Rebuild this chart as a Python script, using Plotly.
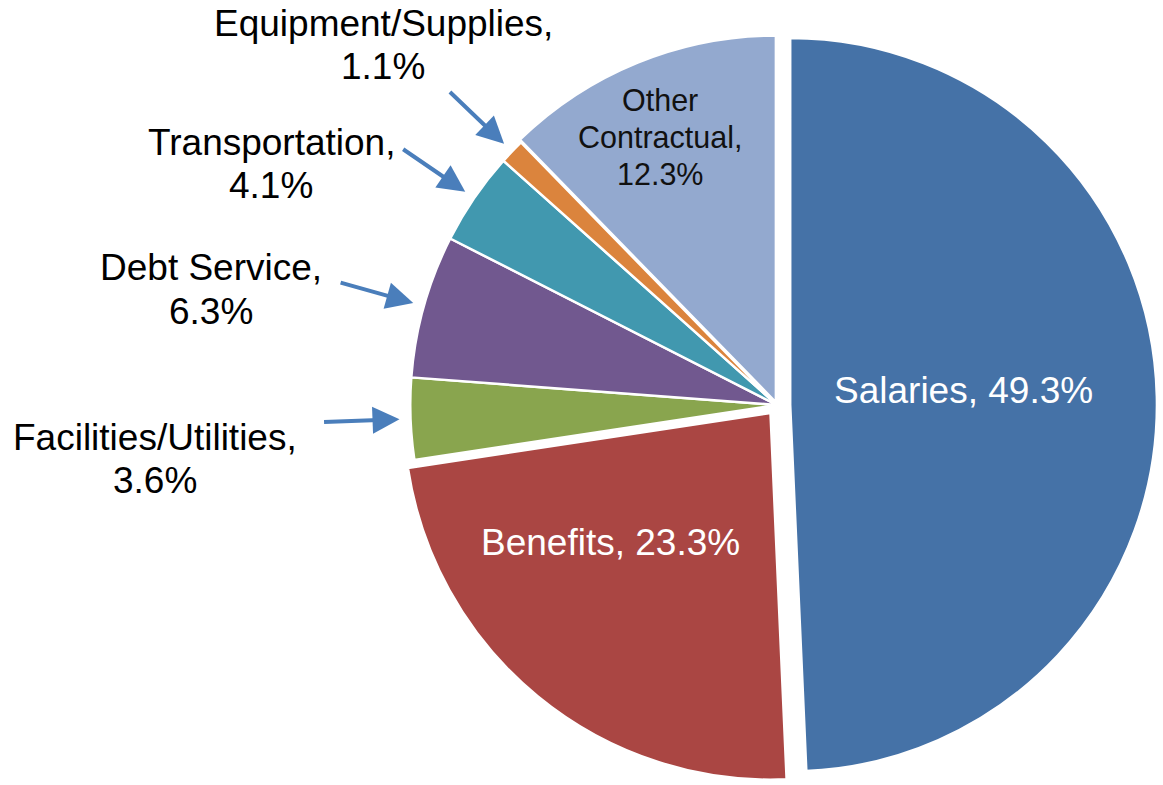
import math
import plotly.graph_objects as go

# ---------------- data ----------------
categories = ["Salaries", "Benefits", "Facilities/Utilities", "Debt Service",
              "Transportation", "Equipment/Supplies", "Other Contractual"]
shares = [49.3, 23.3, 3.6, 6.3, 4.1, 1.1, 12.3]

# ---------------- style ----------------
colors = ["#4572A7", "#AA4643", "#89A54E", "#71588F", "#4198AF", "#DB843D", "#93A9CF"]
pulls = [0.036, 0.028, 0, 0, 0, 0, 0.008]
FONT = "Liberation Sans, Arial, sans-serif"
ARROW_COLOR = "#4A7EBB"

W, H = 1163, 785
dom_x = [0.3414, 0.9948]
dom_y = [0.0, 0.96815]

# replicate plotly's pie geometry so labels follow the slices
box_w = W * (dom_x[1] - dom_x[0])
box_h = H * (dom_y[1] - dom_y[0])
R = min(box_w, box_h) / 2 / (1 + max(pulls))
CX = W * (dom_x[0] + dom_x[1]) / 2
CY = H * (1 - dom_y[0]) - box_h / 2

total = sum(shares)
mid_angles = []
acc = 0.0
for s in shares:
    mid_angles.append((acc + s / 2) / total * 360.0)
    acc += s


def polar(angle_deg, rfac):
    a = math.radians(angle_deg)
    return CX + rfac * R * math.sin(a), CY - rfac * R * math.cos(a)


def to_paper(px, py):
    return px / W, 1 - py / H


fig = go.Figure(go.Pie(
    labels=categories,
    values=shares,
    sort=False,
    direction="clockwise",
    rotation=0,
    pull=pulls,
    marker=dict(colors=colors, line=dict(color="white", width=2.5)),
    textinfo="none",
    hoverinfo="label+percent",
    domain=dict(x=dom_x, y=dom_y),
    showlegend=False,
))

annotations = []


def add_text(lines, px, py, size, color, spacing):
    n = len(lines)
    x, y = to_paper(px, py)
    for i, line in enumerate(lines):
        annotations.append(dict(
            x=x, y=y, xref="paper", yref="paper", text=line, showarrow=False,
            xanchor="center", yanchor="middle",
            yshift=((n - 1) / 2 - i) * spacing,
            font=dict(family=FONT, size=size, color=color),
        ))


def pct(v):
    return f"{v:.1f}%"


# inside labels: (index, lines, radius factor, angle offset, size, color, spacing)
inside = [
    (0, [f"{categories[0]}, {pct(shares[0])}"], 0.511, -3.3, 37, "white", 44),
    (1, [f"{categories[1]}, {pct(shares[1])}"], 0.589, 11.2, 37, "white", 44),
    (6, ["Other", "Contractual,", pct(shares[6])], 0.797, -1.4, 30.5, "#111111", 37),
]
for idx, lines, rf, da, size, color, sp in inside:
    px, py = polar(mid_angles[idx] + da, rf)
    add_text(lines, px, py, size, color, sp)

# outside labels with arrows: (index, text radius factor, angle offset)
outside = [
    (2, 1.701, -2.8),
    (3, 1.574, -4.1),
    (4, 1.527, -8.9),
    (5, 1.454, -1.3),
]
TIP, TAIL = 1.03, 1.24
for idx, rf, da in outside:
    px, py = polar(mid_angles[idx] + da, rf)
    add_text([f"{categories[idx]},", pct(shares[idx])], px, py, 37, "black", 43.5)
    hx, hy = polar(mid_angles[idx], TIP)
    tx, ty = polar(mid_angles[idx], TAIL)
    x, y = to_paper(hx, hy)
    annotations.append(dict(
        x=x, y=y, xref="paper", yref="paper", text="", showarrow=True,
        ax=tx - hx, ay=ty - hy, axref="pixel", ayref="pixel",
        arrowhead=2, arrowsize=1.35, arrowwidth=4, arrowcolor=ARROW_COLOR,
        standoff=0, startstandoff=0,
    ))

fig.update_layout(
    width=W, height=H,
    margin=dict(l=0, r=0, t=0, b=0),
    paper_bgcolor="white",
    plot_bgcolor="white",
    annotations=annotations,
    font=dict(family=FONT),
)

fig.write_html("out.html", config={"displayModeBar": False},
               post_script="document.body.style.margin='0px';")
